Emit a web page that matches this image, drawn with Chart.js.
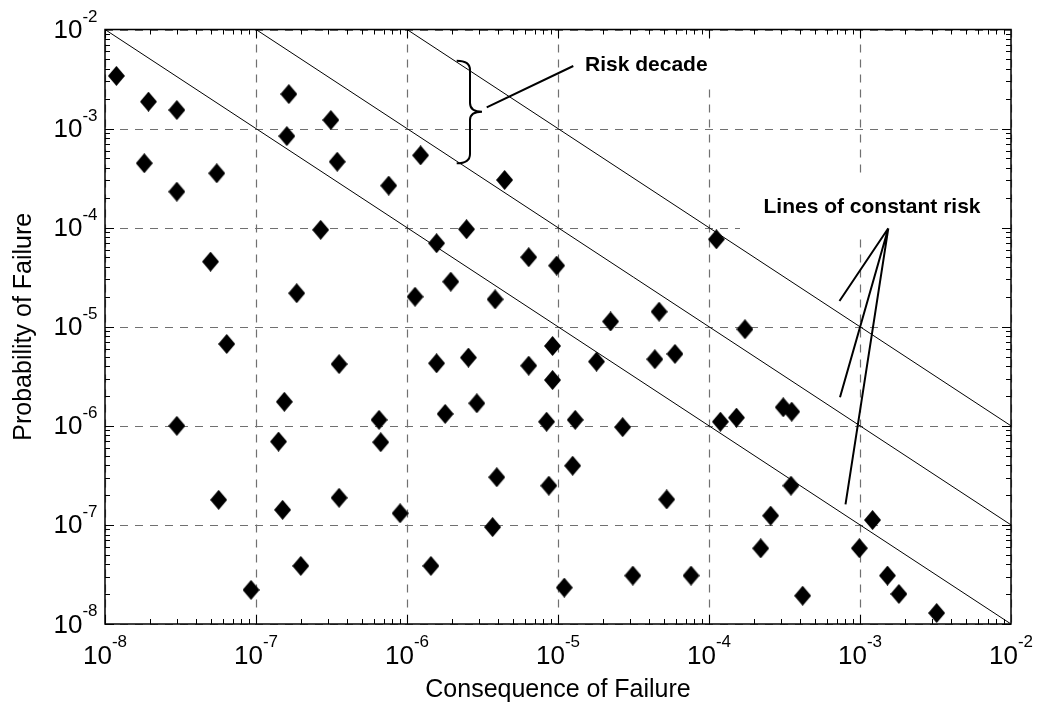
<!DOCTYPE html>
<html>
<head>
<meta charset="utf-8">
<script src="https://cdn.jsdelivr.net/npm/chart.js@4/dist/chart.umd.min.js"></script>
<style>
  html, body { margin: 0; padding: 0; background: #fff; }
  #wrap { width: 1037px; height: 708px; }
</style>
</head>
<body>
<div id="wrap"><canvas id="riskChart" width="1037" height="708"></canvas></div>
<script>
// consequence (x) and probability (y) of each item
const consequence = [
  1.19e-8, 1.94e-8, 2.99e-8, 1.82e-8, 2.99e-8, 5.5e-8, 5.0e-8, 6.4e-8,
  1.65e-7, 1.6e-7, 3.13e-7, 3.45e-7, 7.57e-7, 2.68e-7, 1.86e-7, 1.13e-6,
  1.23e-6, 4.43e-6, 2.48e-6, 1.57e-6, 6.4e-6, 9.8e-6, 1.95e-6, 3.83e-6,
  2.23e-5, 4.67e-5, 1.12e-4, 1.73e-4, 9.2e-6, 1.57e-6, 2.55e-6, 6.4e-6,
  9.2e-6, 1.8e-5, 4.38e-5, 5.95e-5, 1.79e-6, 2.9e-6, 8.4e-6, 1.3e-5,
  2.68e-5, 1.19e-4, 1.52e-4, 3.1e-4, 3.53e-4, 1.25e-5, 3.93e-6, 8.7e-6,
  5.25e-5, 3.49e-4, 2.56e-4, 2.2e-4, 9.0e-7, 3.69e-6, 1.44e-6, 1.1e-5,
  3.13e-5, 7.6e-5, 4.17e-4, 1.21e-3, 9.9e-4, 1.52e-3, 1.81e-3, 3.22e-3,
  3.55e-7, 1.54e-7, 2.99e-8, 6.53e-7, 1.41e-7, 6.7e-7, 5.66e-8, 1.5e-7,
  3.55e-7, 1.98e-7, 9.27e-8
];
const probability = [
  3.4e-3, 1.87e-3, 1.54e-3, 4.47e-4, 2.31e-4, 3.54e-4, 4.54e-5, 6.7e-6,
  2.23e-3, 8.4e-4, 1.22e-3, 4.63e-4, 2.66e-4, 9.5e-5, 2.18e-5, 2.01e-5,
  5.37e-4, 3.03e-4, 9.64e-5, 6.97e-5, 5.03e-5, 4.14e-5, 2.85e-5, 1.89e-5,
  1.13e-5, 1.42e-5, 7.64e-5, 9.44e-6, 6.4e-6, 4.28e-6, 4.88e-6, 4.05e-6,
  2.9e-6, 4.45e-6, 4.7e-6, 5.32e-6, 1.32e-6, 1.69e-6, 1.1e-6, 1.15e-6,
  9.7e-7, 1.1e-6, 1.21e-6, 1.54e-6, 1.39e-6, 3.96e-7, 3.03e-7, 2.49e-7,
  1.81e-7, 2.49e-7, 1.24e-7, 5.8e-8, 1.31e-7, 9.5e-8, 3.86e-8, 2.33e-8,
  3.08e-8, 3.08e-8, 1.93e-8, 1.12e-7, 5.82e-8, 3.08e-8, 2.01e-8, 1.29e-8,
  4.2e-6, 1.75e-6, 1.0e-6, 1.15e-6, 6.93e-7, 6.83e-7, 1.79e-7, 1.42e-7,
  1.88e-7, 3.86e-8, 2.21e-8
];

// lines of constant risk (consequence x probability = const), end points
const riskLineX = [[1e-8, 1e-2], [1e-7, 1e-2], [1e-6, 1e-2]];
const riskLineY = [[1e-2, 1e-8], [1e-2, 1e-7], [1e-2, 1e-6]];

// decade exponents used for ticks and labels
const xTickExps = [-8, -7, -6, -5, -4, -3, -2];
const yTickExps = [-8, -7, -6, -5, -4, -3, -2];

const xTitle = "Consequence of Failure";
const yTitle = "Probability of Failure";

const FONT = '"Liberation Sans", Arial, Helvetica, sans-serif';

// MATLAB style diamond marker, a bit taller than wide
const diamond = document.createElement("canvas");
diamond.width = 17;
diamond.height = 20;
const dctx = diamond.getContext("2d");
dctx.beginPath();
dctx.moveTo(8.5, 0);
dctx.lineTo(17, 10);
dctx.lineTo(8.5, 20);
dctx.lineTo(0, 10);
dctx.closePath();
dctx.fillStyle = "#000";
dctx.fill();

function drawPower(ctx, exp, x, baseY, expBaseY, align) {
  ctx.font = `26px ${FONT}`;
  const w10 = ctx.measureText("10").width;
  ctx.font = `17px ${FONT}`;
  const wExp = ctx.measureText(String(exp)).width;
  let x0 = align === "center" ? x - (w10 + wExp) / 2 : x - (w10 + wExp);
  ctx.textAlign = "left";
  ctx.textBaseline = "alphabetic";
  ctx.font = `26px ${FONT}`;
  ctx.fillText("10", x0, baseY);
  ctx.font = `17px ${FONT}`;
  ctx.fillText(String(exp), x0 + w10, expBaseY);
}

const framePlugin = {
  id: "frame",
  beforeDatasetsDraw(chart) {
    const { ctx, chartArea: a, scales } = chart;
    const xs = scales.x;
    const ys = scales.y;
    ctx.save();
    // dashed grid on decades
    ctx.strokeStyle = "#707070";
    ctx.lineWidth = 1.2;
    ctx.setLineDash([8, 7]);
    for (const e of xTickExps) {
      const px = Math.round(xs.getPixelForValue(Math.pow(10, e))) + 0.5;
      ctx.beginPath();
      ctx.moveTo(px, a.top);
      ctx.lineTo(px, a.bottom);
      ctx.stroke();
    }
    for (const e of yTickExps) {
      const py = Math.round(ys.getPixelForValue(Math.pow(10, e))) + 0.5;
      ctx.beginPath();
      ctx.moveTo(a.left, py);
      ctx.lineTo(a.right, py);
      ctx.stroke();
    }
    ctx.setLineDash([]);
    // white backgrounds behind the two annotations
    ctx.fillStyle = "#fff";
    ctx.fillRect(578, 38, 140, 46);
    ctx.fillRect(740, 177, 268, 58);
    ctx.restore();
  },
  afterDatasetsDraw(chart) {
    const { ctx, chartArea: a, scales } = chart;
    const xs = scales.x;
    const ys = scales.y;
    ctx.save();

    // axis box
    ctx.strokeStyle = "#000";
    ctx.lineWidth = 1.5;
    ctx.strokeRect(a.left, a.top, a.right - a.left, a.bottom - a.top);

    // inside ticks on all four sides
    ctx.lineWidth = 1;
    for (let e = -8; e < -2; e++) {
      for (let m = 1; m <= 9; m++) {
        const v = m * Math.pow(10, e);
        const len = m === 1 ? 9 : 5;
        const px = Math.round(xs.getPixelForValue(v)) + 0.5;
        ctx.beginPath();
        ctx.moveTo(px, a.bottom);
        ctx.lineTo(px, a.bottom - len);
        ctx.moveTo(px, a.top);
        ctx.lineTo(px, a.top + len);
        const py = Math.round(ys.getPixelForValue(v)) + 0.5;
        ctx.moveTo(a.left, py);
        ctx.lineTo(a.left + len, py);
        ctx.moveTo(a.right, py);
        ctx.lineTo(a.right - len, py);
        ctx.stroke();
      }
    }

    // tick labels
    ctx.fillStyle = "#000";
    for (const e of xTickExps) {
      const px = xs.getPixelForValue(Math.pow(10, e));
      drawPower(ctx, e, px, a.bottom + 39.5, a.bottom + 23, "center");
    }
    for (const e of yTickExps) {
      const py = ys.getPixelForValue(Math.pow(10, e));
      drawPower(ctx, e, a.left - 7.5, py + 8.5, py - 7.8, "right");
    }

    // axis titles
    ctx.font = `25px ${FONT}`;
    ctx.textAlign = "center";
    ctx.textBaseline = "alphabetic";
    ctx.fillText(xTitle, (a.left + a.right) / 2, 697);
    ctx.save();
    ctx.translate(31, (a.top + a.bottom) / 2);
    ctx.rotate(-Math.PI / 2);
    ctx.fillText(yTitle, 0, 0);
    ctx.restore();

    // annotations
    ctx.font = `bold 21px ${FONT}`;
    ctx.textAlign = "left";
    ctx.fillText("Risk decade", 585, 70.7);
    ctx.fillText("Lines of constant risk", 763.5, 213.3);

    ctx.lineWidth = 2;
    ctx.strokeStyle = "#000";
    // brace spanning one risk decade
    ctx.beginPath();
    ctx.moveTo(456.7, 60.7);
    ctx.quadraticCurveTo(470, 60.7, 470, 70);
    ctx.lineTo(470, 103);
    ctx.quadraticCurveTo(470, 111.7, 482, 111.7);
    ctx.quadraticCurveTo(470, 111.7, 470, 120);
    ctx.lineTo(470, 154);
    ctx.quadraticCurveTo(470, 163.3, 456.7, 163.3);
    ctx.stroke();
    // leader lines
    ctx.beginPath();
    ctx.moveTo(486.7, 107.3);
    ctx.lineTo(573.3, 66);
    ctx.moveTo(888.3, 228.3);
    ctx.lineTo(839.5, 301);
    ctx.moveTo(888.3, 228.3);
    ctx.lineTo(840, 397.3);
    ctx.moveTo(888.3, 228.3);
    ctx.lineTo(845.5, 504.3);
    ctx.stroke();

    ctx.restore();
  },
};

const riskDatasets = riskLineX.map((xsArr, i) => ({
  type: "line",
  data: xsArr.map((x, j) => ({ x, y: riskLineY[i][j] })),
  borderColor: "#000",
  borderWidth: 1,
  pointRadius: 0,
  fill: false,
}));

const points = consequence.map((x, i) => ({ x, y: probability[i] }));

new Chart(document.getElementById("riskChart"), {
  type: "scatter",
  data: {
    datasets: [
      ...riskDatasets,
      {
        data: points,
        pointStyle: diamond,
        pointRadius: 9,
        backgroundColor: "#000",
        borderWidth: 0,
      },
    ],
  },
  options: {
    responsive: false,
    animation: false,
    layout: { padding: { top: 29.5, right: 26, left: 0, bottom: 0 } },
    plugins: {
      legend: { display: false },
      tooltip: { enabled: false },
    },
    scales: {
      x: {
        type: "logarithmic",
        min: 1e-8,
        max: 1e-2,
        ticks: { display: false },
        grid: { display: false },
        border: { display: false },
        afterFit: (scale) => { scale.height = 84; },
      },
      y: {
        type: "logarithmic",
        min: 1e-8,
        max: 1e-2,
        ticks: { display: false },
        grid: { display: false },
        border: { display: false },
        afterFit: (scale) => { scale.width = 105; },
      },
    },
  },
  plugins: [framePlugin],
});
</script>
</body>
</html>
